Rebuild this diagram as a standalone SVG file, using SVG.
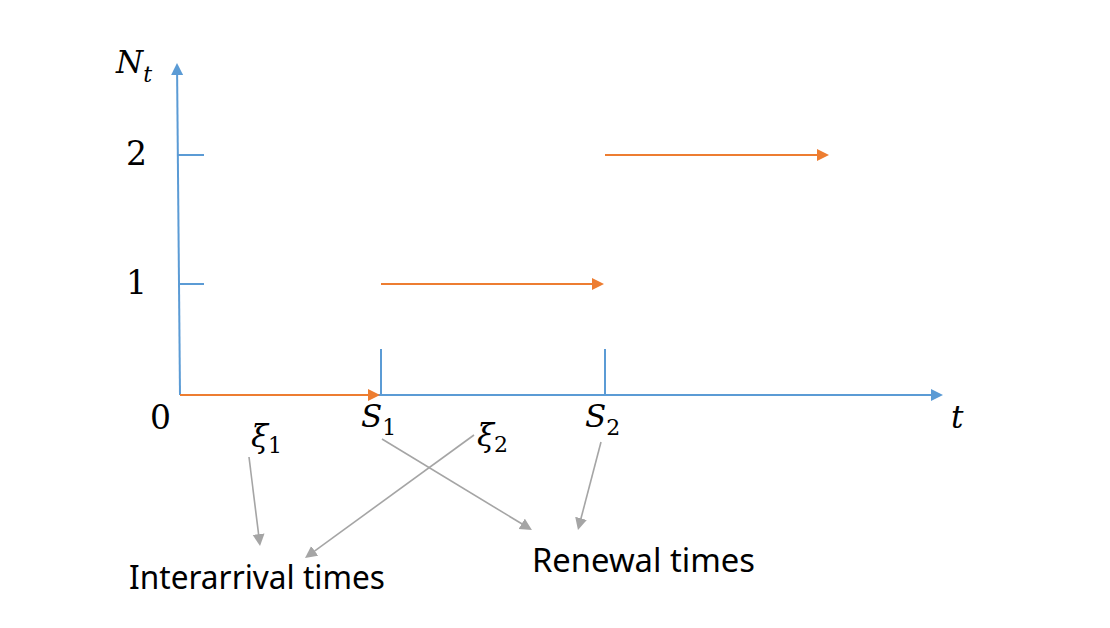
<svg xmlns="http://www.w3.org/2000/svg" width="1110" height="628" viewBox="0 0 1110 628">
<style>
.blue{stroke:#5B9BD5;stroke-width:2;fill:none}
.orange{stroke:#ED7D31;stroke-width:2;fill:none}
.gray{stroke:#A5A5A5;stroke-width:1.6;fill:none}
.math{font-family:"DejaVu Serif","Liberation Serif",serif;font-size:31px;fill:#000}
.num{font-size:33px}
.it{font-style:italic}
.sub{font-size:22px}
.lbl{font-family:"Noto Sans","Open Sans","Liberation Sans",sans-serif;font-size:33px;fill:#000}
</style>
<defs>
<marker id="ab" markerUnits="userSpaceOnUse" markerWidth="14" markerHeight="14" refX="2" refY="6" orient="auto"><path d="M0,0 L12,6 L0,12 z" fill="#5B9BD5"/></marker>
<marker id="ao" markerUnits="userSpaceOnUse" markerWidth="14" markerHeight="14" refX="2" refY="6" orient="auto"><path d="M0,0 L12,6 L0,12 z" fill="#ED7D31"/></marker>
<marker id="ag" markerUnits="userSpaceOnUse" markerWidth="14" markerHeight="14" refX="2" refY="6" orient="auto"><path d="M0,0 L12,6 L0,12 z" fill="#A5A5A5"/></marker>
</defs>
<rect width="1110" height="628" fill="#fff"/>
<g id="axes">
<path class="blue" d="M180,395 L177.1,73" marker-end="url(#ab)"/>
<path class="blue" d="M180,395 L933,395" marker-end="url(#ab)"/>
<path class="blue" d="M178,155 L204,155 M179,284 L204,284 M381,349 L381,395 M605,349 L605,395"/>
</g>
<g id="steps">
<path class="orange" d="M180,395 L370,395" marker-end="url(#ao)"/>
<path class="orange" d="M381,284 L594,284" marker-end="url(#ao)"/>
<path class="orange" d="M605,155 L819,155" marker-end="url(#ao)"/>
</g>
<g id="labels">
<text class="math it" x="116" y="73">N<tspan class="sub" dy="9">t</tspan></text>
<text class="math num" x="126" y="165">2</text>
<text class="math num" x="126" y="294">1</text>
<text class="math num" x="150" y="429">0</text>
<text class="math it" x="361" y="427">S<tspan class="sub" dy="8" font-style="normal">1</tspan></text>
<text class="math it" x="585" y="427">S<tspan class="sub" dy="8" font-style="normal">2</tspan></text>
<text class="math it" x="951" y="428">t</text>
<text class="math it" x="251" y="447">ξ<tspan class="sub" dy="6" font-style="normal">1</tspan></text>
<text class="math it" x="477" y="446">ξ<tspan class="sub" dy="6" font-style="normal">2</tspan></text>
</g>
<g id="node-interarrival">
<text class="lbl" x="129" y="589" textLength="256" lengthAdjust="spacingAndGlyphs">Interarrival times</text>
</g>
<g id="node-renewal">
<text class="lbl" x="532" y="572" textLength="223" lengthAdjust="spacingAndGlyphs">Renewal times</text>
</g>
<g id="connectors">
<path class="gray" d="M249,457 L258.8,536.1" marker-end="url(#ag)"/>
<path class="gray" d="M474,435 L313.1,552.1" marker-end="url(#ag)"/>
<path class="gray" d="M382,439 L523.4,524.8" marker-end="url(#ag)"/>
<path class="gray" d="M601,442 L580.5,520.3" marker-end="url(#ag)"/>
</g>
</svg>
